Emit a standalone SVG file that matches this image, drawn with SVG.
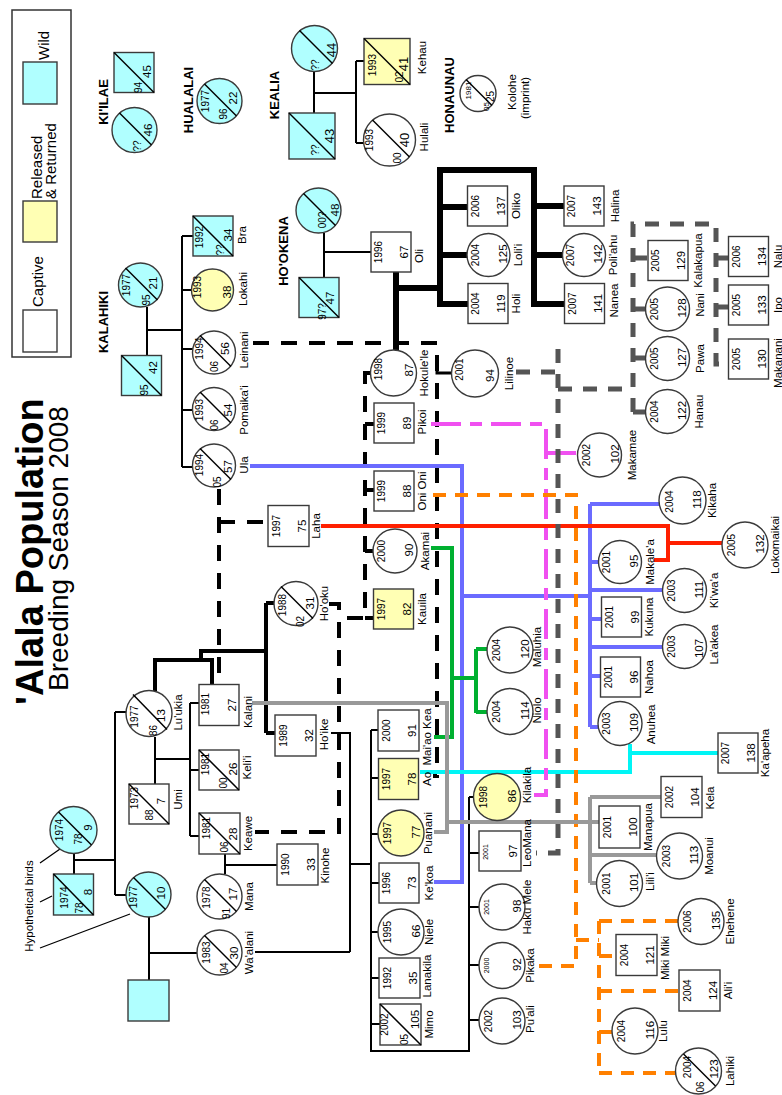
<svg xmlns="http://www.w3.org/2000/svg" width="782" height="1095" viewBox="0 0 782 1095">
<style>
text{font-family:"Liberation Sans",Arial,Helvetica,sans-serif;text-anchor:middle;fill:#000}
.st{text-anchor:start}
.s{stroke:#3a3a3a;stroke-width:1.4}
.w{fill:#fff}.b{fill:#b0ffff}.y{fill:#ffffb4}
.d{stroke:#000;stroke-width:1.5}
.yr{font-size:10px}.ys{font-size:7px}.y8{font-size:8px}.n{font-size:11.5px}.nb{font-size:13px}.m{font-size:11.5px}
.lb{font-size:13px;font-weight:bold}
.lg{font-size:15px}
.k{fill:none;stroke:#000;stroke-width:2}
.k4{fill:none;stroke:#000;stroke-width:4}
.k6{fill:none;stroke:#000;stroke-width:6}
.kd{fill:none;stroke:#000;stroke-width:4;stroke-dasharray:16 12}
.bl{fill:none;stroke:#6b6bff;stroke-width:4}
.rd{fill:none;stroke:#ff2000;stroke-width:4}
.gn{fill:none;stroke:#00b030;stroke-width:4}
.cy{fill:none;stroke:#00f5f5;stroke-width:4}
.pk{fill:none;stroke:#f050f0;stroke-width:4;stroke-dasharray:30 9 12 9}
.or{fill:none;stroke:#ff8000;stroke-width:4;stroke-dasharray:13 9}
.gr{fill:none;stroke:#999;stroke-width:4}
.gd{fill:none;stroke:#555;stroke-width:5;stroke-dasharray:14 11}
</style>
<rect width="782" height="1095" fill="#fff"/>

<g id="title">
<text class="st" font-size="38" font-weight="bold" transform="translate(43,705) rotate(-90)">'Alala Population</text>
<text class="st" font-size="28" transform="translate(68,691) rotate(-90)">Breeding Season 2008</text>
</g>

<g id="legend">
<rect x="12" y="10" width="59" height="347" fill="#fff" stroke="#333" stroke-width="1.5"/>
<rect class="b s" x="23" y="62" width="34" height="42"/>
<rect class="y s" x="23" y="201" width="34" height="41"/>
<rect class="w s" x="23" y="310" width="34" height="42"/>
<text class="lg st" transform="translate(49,60) rotate(-90)">Wild</text>
<text class="lg st" transform="translate(42,199) rotate(-90)">Released</text>
<text class="lg st" transform="translate(56,199) rotate(-90)">&amp; Returned</text>
<text class="lg st" transform="translate(43,307) rotate(-90)">Captive</text>
</g>

<g id="labels">
<text class="lb" transform="translate(108,102) rotate(-90)">KI'ILAE</text>
<text class="lb" transform="translate(193,100) rotate(-90)">HUALALAI</text>
<text class="lb" transform="translate(279,95) rotate(-90)">KEALIA</text>
<text class="lb" transform="translate(454,95) rotate(-90)">HONAUNAU</text>
<text class="lb" transform="translate(108,322) rotate(-90)">KALAHIKI</text>
<text class="lb" transform="translate(288,251) rotate(-90)">HO'OKENA</text>
<text font-size="11.5" transform="translate(33,906) rotate(-90)">Hypothetical birds</text>
<path d="M40,863L60,849M40,902L52,896M40,948L130,914" stroke="#000" stroke-width="1.3" fill="none"/>
</g>

<g id="connectors">
<path class="k" d="M314,72V113M314,93H356M356,61V143M356,61H364M356,143H364"/>
<path class="k" d="M324,233V277M324,252H371"/>
<path class="k" d="M147,307V355M147,330H182M182,236V467M182,236H193M182,290H192M182,349H193M182,410H193M182,467H193"/>
<path class="k" d="M74,853V874M74,860H115M115,712V895M115,712H127M115,895H126"/>
<path class="k" d="M149,917V980M149,953H197"/>
<path class="k" d="M155,737V784M155,759H190M190,703V836M190,703H199M190,770H199M190,836H199"/>
<path class="k" d="M225,854V874M225,865H277"/>
<path class="k" d="M331,733H350V952M255,952H350M350,864H371"/>
<path class="k" d="M371,730V1051H469V797M371,730H378M371,778H378M371,834H378M371,883H379M371,932H378M371,978H379M371,1024H380M469,797H474M469,853H479M469,907H479M469,965H479M469,1020H479"/>
<path class="k4" d="M155,691V660H212V686M201,660V651H266M266,603V733M266,603H274M266,733H275"/>
<path class="k6" d="M396,272V350M396,288H440M440,307V170H534V307M440,207H467M440,255H468M440,304H468M534,206H564M534,255H563M534,304H564"/>
<path class="kd" d="M219,489V686"/>
<path class="kd" d="M219,522H268"/>
<path class="kd" d="M253,343H437V776H433"/>
<path class="kd" d="M370,373H365V618H339"/>
<path class="kd" d="M365,424H374M365,490H374M365,551H373M365,618H374"/>
<path class="kd" d="M329,604H339V832H255"/>
<path fill="none" stroke="#000" stroke-width="3" d="M437,360V373H452"/>
<path class="bl" d="M250,466H462V882H434M462,596H590M590,504V727M590,504H659M590,562H599M590,590H663M590,619H601M590,647H663M590,676H601M590,727H599"/>
<path class="rd" d="M321,526H668V560H654M668,543H723"/>
<path class="gn" d="M431,548H452V737H434M452,678H476M476,649V713M476,649H487M476,712H487"/>
<path class="cy" d="M420,772H630V744M630,753H718"/>
<path class="pk" d="M431,424H546V795H534M546,453H578"/>
<path class="or" d="M433,495H576V966H534M576,940H599M599,921V1073M599,921H678M599,956H616M599,991H679M599,1032H612M599,1073H676"/>
<path class="gr" d="M252,703H447V832H434M447,822H599M590,797V883M590,797H661M590,855H658M590,883H598"/>
<path class="gd" d="M516,372H558M558,349V853H536M558,389H633M633,412V224H716V364H728M633,258H648M633,309H646M633,358H646M633,412H646M716,258H728M716,307H728"/>
</g>

<g id="nodes">
<g id="kiilae-m" transform="translate(134,72.5) rotate(-90)"><rect class="b s" x="-20" y="-20" width="40" height="40"/><line class="d" x1="20" y1="-20" x2="-20" y2="20"/><text class="yr" x="-15" y="7.5">94</text><text class="n" x="1" y="17">45</text></g>
<g id="kiilae-f" transform="translate(134.5,130) rotate(-90)"><circle class="b s" r="22.5"/><line class="d" x1="17" y1="-15" x2="-15" y2="17"/><text class="yr" x="-16" y="6">??</text><text class="n" x="0" y="17">46</text></g>
<g id="hualalai-f" transform="translate(219.5,101) rotate(-90)"><circle class="b s" r="22.5"/><line class="d" x1="17" y1="-15" x2="-15" y2="17"/><text class="yr" x="0" y="-11">1977</text><text class="yr" x="-13" y="7">96</text><text class="n" x="3" y="17.5">22</text></g>
<g id="bra" transform="translate(213,236) rotate(-90)"><rect class="b s" x="-20" y="-20" width="40" height="40"/><line class="d" x1="20" y1="-20" x2="-20" y2="20"/><text class="yr" x="-1" y="-10">1992</text><text class="yr" x="-14" y="11">??</text><text class="n" x="1" y="19">34</text><text class="m" x="1" y="32.5">Bra</text></g>
<g id="kealia-f" transform="translate(314.5,48.5) rotate(-90)"><circle class="b s" r="23"/><line class="d" x1="18" y1="-15" x2="-15" y2="18"/><text class="yr" x="-16.5" y="4.5">??</text><text class="nb" x="-1.5" y="21">44</text></g>
<g id="kealia-m" transform="translate(312,136) rotate(-90)"><rect class="b s" x="-23" y="-23" width="46" height="46"/><line class="d" x1="23" y1="-23" x2="-23" y2="23"/><text class="yr" x="-14" y="7">??</text><text class="nb" x="0" y="22">43</text></g>
<g id="kehau" transform="translate(387,61.5) rotate(-90)"><rect class="y s" x="-23" y="-23" width="46" height="46"/><line class="d" x1="23" y1="-23" x2="-23" y2="23"/><text class="yr" x="-3.5" y="-11">1993</text><text class="yr" x="-15.5" y="16">02</text><text class="nb" x="-2.5" y="21">41</text><text class="m" x="4" y="39">Kehau</text></g>
<g id="hulali" transform="translate(389.5,140) rotate(-90)"><circle class="w s" r="26"/><line class="d" x1="20" y1="-17" x2="-17" y2="20"/><text class="yr" x="0" y="-16.5">1993</text><text class="yr" x="-18" y="11.5">00</text><text class="nb" x="0" y="19.5">40</text><text class="m" x="3" y="38.5">Hulali</text></g>
<g id="kolohe" transform="translate(478,93.5) rotate(-90)"><circle class="w s" r="18"/><line class="d" x1="14" y1="-12" x2="-12" y2="14"/><text class="y8" x="3" y="-7">1981</text><text class="y8" x="-13" y="11">05</text><text class="yr" x="-3" y="16">25</text><text class="m" x="1.5" y="38">Kolohe</text><text class="m" x="-4.5" y="51">(imprint)</text></g>
<g id="hookena-f" transform="translate(318.5,210.5) rotate(-90)"><circle class="b s" r="22.5"/><line class="d" x1="17" y1="-15" x2="-15" y2="17"/><text class="yr" x="-9.5" y="7">00?</text><text class="n" x="0.5" y="20">48</text></g>
<g id="hookena-m" transform="translate(319,297.5) rotate(-90)"><rect class="b s" x="-20" y="-20" width="40" height="40"/><line class="d" x1="20" y1="-20" x2="-20" y2="20"/><text class="yr" x="-14" y="7">97?</text><text class="n" x="-0.5" y="15">47</text></g>
<g id="oli" transform="translate(391,252) rotate(-90)"><rect class="w s" x="-20" y="-20" width="40" height="40"/><text class="yr" x="0" y="-9">1996</text><text class="n" x="0" y="17">67</text><text class="m" x="-4" y="32">Oli</text></g>
<g id="oliko" transform="translate(487.5,206) rotate(-90)"><rect class="w s" x="-20" y="-20" width="40" height="40"/><text class="yr" x="0" y="-9">2006</text><text class="n" x="0" y="17">137</text><text class="m" x="0" y="32">Oliko</text></g>
<g id="lolii" transform="translate(488.5,255) rotate(-90)"><circle class="w s" r="21.5"/><text class="yr" x="0" y="-10">2004</text><text class="n" x="1" y="18">125</text><text class="m" x="0" y="33">Loli'i</text></g>
<g id="holi" transform="translate(488,303.5) rotate(-90)"><rect class="w s" x="-20" y="-20" width="40" height="40"/><text class="yr" x="0" y="-9">2004</text><text class="n" x="0" y="17">119</text><text class="m" x="0" y="32">Holi</text></g>
<g id="halina" transform="translate(584,206) rotate(-90)"><rect class="w s" x="-20" y="-20" width="40" height="40"/><text class="yr" x="0" y="-9">2007</text><text class="n" x="0" y="17">143</text><text class="m" x="0" y="35">Halina</text></g>
<g id="poliahu" transform="translate(584,255) rotate(-90)"><circle class="w s" r="21.5"/><text class="yr" x="0" y="-10">2007</text><text class="n" x="1" y="18">142</text><text class="m" x="0" y="33">Poli'ahu</text></g>
<g id="nanea" transform="translate(584.5,303.5) rotate(-90)"><rect class="w s" x="-20" y="-20" width="40" height="40"/><text class="yr" x="0" y="-9">2007</text><text class="n" x="0" y="17">141</text><text class="m" x="3" y="33">Nanea</text></g>
<g id="kalakapua" transform="translate(668,260.5) rotate(-90)"><rect class="w s" x="-20" y="-20" width="40" height="40"/><text class="yr" x="0" y="-9">2005</text><text class="n" x="0" y="17">129</text><text class="m" x="0" y="34">Kalakapua</text></g>
<g id="nani" transform="translate(667.5,309) rotate(-90)"><circle class="w s" r="22"/><text class="yr" x="0" y="-10">2005</text><text class="n" x="1" y="18">128</text><text class="m" x="4" y="36">Nani</text></g>
<g id="pawa" transform="translate(667.5,358.5) rotate(-90)"><circle class="w s" r="22"/><text class="yr" x="0" y="-10">2005</text><text class="n" x="1" y="18">127</text><text class="m" x="0" y="36">Pawa</text></g>
<g id="hanau" transform="translate(667.5,411.5) rotate(-90)"><circle class="w s" r="22"/><text class="yr" x="0" y="-10">2004</text><text class="n" x="1" y="18">122</text><text class="m" x="0" y="35">Hanau</text></g>
<g id="nalu" transform="translate(748.5,256.5) rotate(-90)"><rect class="w s" x="-20" y="-20" width="40" height="40"/><text class="yr" x="0" y="-9">2006</text><text class="n" x="0" y="17">134</text><text class="m" x="0" y="33">Nalu</text></g>
<g id="ipo" transform="translate(748.5,305) rotate(-90)"><rect class="w s" x="-20" y="-20" width="40" height="40"/><text class="yr" x="0" y="-9">2005</text><text class="n" x="0" y="17">133</text><text class="m" x="0" y="33">Ipo</text></g>
<g id="makanani" transform="translate(748.5,359) rotate(-90)"><rect class="w s" x="-20" y="-20" width="40" height="40"/><text class="yr" x="0" y="-9">2005</text><text class="n" x="0" y="17">130</text><text class="m" x="-4" y="33">Makanani</text></g>
<g id="kalahiki-f" transform="translate(140.5,285) rotate(-90)"><circle class="b s" r="22"/><line class="d" x1="17" y1="-15" x2="-15" y2="17"/><text class="yr" x="0" y="-10.5">1977</text><text class="yr" x="-15" y="9.5">95</text><text class="n" x="2" y="16.5">21</text></g>
<g id="kalahiki-m" transform="translate(141.5,375.5) rotate(-90)"><rect class="b s" x="-20" y="-20" width="40" height="40"/><line class="d" x1="20" y1="-20" x2="-20" y2="20"/><text class="yr" x="-14.5" y="6.5">95</text><text class="n" x="8" y="15.5">42</text></g>
<g id="lokahi" transform="translate(212.5,290) rotate(-90)"><circle class="y s" r="21"/><text class="yr" x="3" y="-12">1993</text><text class="n" x="-2" y="18">38</text><text class="m" x="1" y="34.5">Lokahi</text></g>
<g id="leinani" transform="translate(214,352.5) rotate(-90)"><circle class="w s" r="21.5"/><line class="d" x1="17" y1="-14" x2="-14" y2="17"/><text class="yr" x="4" y="-11">1994</text><text class="yr" x="-14" y="4">06</text><text class="n" x="4" y="15">56</text><text class="m" x="2.5" y="34">Leinani</text></g>
<g id="pomaikai" transform="translate(214,409) rotate(-90)"><circle class="w s" r="21.5"/><line class="d" x1="17" y1="-14" x2="-14" y2="17"/><text class="yr" x="-1" y="-11.5">1993</text><text class="yr" x="-16" y="4">06</text><text class="n" x="-1" y="18">54</text><text class="m" x="-1" y="34">Pomaika'i</text></g>
<g id="ula" transform="translate(214,465.5) rotate(-90)"><circle class="w s" r="21.5"/><line class="d" x1="17" y1="-14" x2="-14" y2="17"/><text class="yr" x="0.5" y="-11.5">1994</text><text class="yr" x="-16.5" y="7">05</text><text class="n" x="-1" y="18">57</text><text class="m" x="0.5" y="34">Ula</text></g>
<g id="hokulele" transform="translate(393.5,373) rotate(-90)"><circle class="w s" r="23"/><text class="yr" x="4" y="-12">1998</text><text class="n" x="3" y="19">87</text><text class="m" x="0" y="34.5">Hokule'le</text></g>
<g id="lilinoe" transform="translate(475,373.5) rotate(-90)"><circle class="w s" r="23.5"/><text class="yr" x="4" y="-12">2001</text><text class="n" x="-2" y="19">94</text><text class="m" x="0" y="37.5">Lilinoe</text></g>
<g id="pikoi" transform="translate(394,423) rotate(-90)"><rect class="w s" x="-20" y="-20" width="40" height="40"/><text class="yr" x="0" y="-9">1999</text><text class="n" x="0" y="17">89</text><text class="m" x="1" y="32">Pikoi</text></g>
<g id="onioni" transform="translate(394,491) rotate(-90)"><rect class="w s" x="-20" y="-20" width="40" height="40"/><text class="yr" x="0" y="-9">1999</text><text class="n" x="0" y="17">88</text><text class="m" x="0" y="32">Oni Oni</text></g>
<g id="laha" transform="translate(288.5,526) rotate(-90)"><rect class="w s" x="-20.5" y="-20.5" width="41" height="41"/><text class="yr" x="0" y="-9">1997</text><text class="n" x="0" y="17">75</text><text class="m" x="0" y="31">Laha</text></g>
<g id="akamai" transform="translate(395,551) rotate(-90)"><circle class="w s" r="22"/><text class="yr" x="0" y="-10">2000</text><text class="n" x="1" y="18">90</text><text class="m" x="0" y="34">Akamai</text></g>
<g id="kauila" transform="translate(393.5,609) rotate(-90)"><rect class="y s" x="-20" y="-20" width="40" height="40"/><text class="yr" x="0" y="-9">1997</text><text class="n" x="0" y="17">82</text><text class="m" x="0" y="32">Kauila</text></g>
<g id="makamae" transform="translate(599.5,455) rotate(-90)"><circle class="w s" r="22"/><text class="yr" x="0" y="-10">2002</text><text class="n" x="1" y="19">102</text><text class="m" x="0" y="36.5">Makamae</text></g>
<g id="kikaha" transform="translate(682.5,500.5) rotate(-90)"><circle class="w s" r="23.5"/><text class="yr" x="-1" y="-10">2004</text><text class="n" x="1" y="18.5">118</text><text class="m" x="0" y="33.5">Kikaha</text></g>
<g id="lokomaikai" transform="translate(745,545) rotate(-90)"><circle class="w s" r="23"/><text class="yr" x="0" y="-10">2005</text><text class="n" x="1" y="18.5">132</text><text class="m" x="0" y="34">Lokomaikai</text></g>
<g id="makalea" transform="translate(620,562) rotate(-90)"><circle class="w s" r="21.5"/><text class="yr" x="0" y="-10">2001</text><text class="n" x="1" y="18">95</text><text class="m" x="0" y="34">Makale'a</text></g>
<g id="kiwaa" transform="translate(684.5,590.5) rotate(-90)"><circle class="w s" r="22"/><text class="yr" x="0" y="-10">2003</text><text class="n" x="1" y="18">111</text><text class="m" x="0" y="33">Ki'wa'a</text></g>
<g id="kukuna" transform="translate(621.5,617) rotate(-90)"><rect class="w s" x="-20" y="-20" width="40" height="40"/><text class="yr" x="0" y="-9">2001</text><text class="n" x="0" y="17">99</text><text class="m" x="0" y="31">Kukuna</text></g>
<g id="laakea" transform="translate(684.5,646.5) rotate(-90)"><circle class="w s" r="22"/><text class="yr" x="0" y="-10">2003</text><text class="n" x="-2" y="18">107</text><text class="m" x="2" y="33">La'akea</text></g>
<g id="nahoa" transform="translate(620.5,677) rotate(-90)"><rect class="w s" x="-20" y="-20" width="40" height="40"/><text class="yr" x="0" y="-9">2001</text><text class="n" x="0" y="17">96</text><text class="m" x="0" y="32">Nahoa</text></g>
<g id="anuhea" transform="translate(620,723.5) rotate(-90)"><circle class="w s" r="22"/><text class="yr" x="0" y="-10">2003</text><text class="n" x="1" y="18">109</text><text class="m" x="-1" y="35">Anuhea</text></g>
<g id="kaapeha" transform="translate(738,753) rotate(-90)"><rect class="w s" x="-20" y="-20" width="40" height="40"/><text class="yr" x="0" y="-9">2007</text><text class="n" x="0" y="17">138</text><text class="m" x="0" y="31">Ka'apeha</text></g>
<g id="maluhia" transform="translate(510,650) rotate(-90)"><circle class="w s" r="23"/><text class="yr" x="0" y="-10">2004</text><text class="n" x="1" y="18.5">120</text><text class="m" x="3" y="31">Maluhia</text></g>
<g id="niolo" transform="translate(510,711.5) rotate(-90)"><circle class="w s" r="23"/><text class="yr" x="0" y="-10">2004</text><text class="n" x="1" y="18.5">114</text><text class="m" x="1" y="31">Niolo</text></g>
<g id="kilakila" transform="translate(497,797) rotate(-90)"><circle class="y s" r="23.5"/><text class="yr" x="0" y="-10">1998</text><text class="n" x="1" y="18.5">86</text><text class="m" x="12" y="34">Kilakila</text></g>
<g id="hooku" transform="translate(296,603.5) rotate(-90)"><circle class="w s" r="22"/><line class="d" x1="17" y1="-15" x2="-15" y2="17"/><text class="yr" x="-1.5" y="-10">1988</text><text class="yr" x="-18" y="8">02</text><text class="n" x="0.5" y="18">31</text><text class="m" x="0" y="32">Ho'oku</text></g>
<g id="hoike" transform="translate(295.5,735.5) rotate(-90)"><rect class="w s" x="-20.5" y="-20.5" width="41" height="41"/><text class="yr" x="0" y="-9">1989</text><text class="n" x="0" y="17">32</text><text class="m" x="1" y="32">Ho'ike</text></g>
<g id="maiaokea" transform="translate(398.5,730.5) rotate(-90)"><rect class="w s" x="-20.5" y="-20.5" width="41" height="41"/><text class="yr" x="0" y="-9">2000</text><text class="n" x="0" y="17">91</text><text class="m" x="-6.5" y="32">Mai'ao Kea</text></g>
<g id="ao" transform="translate(398.5,779) rotate(-90)"><rect class="y s" x="-20.5" y="-20" width="41" height="40"/><text class="yr" x="0" y="-9">1997</text><text class="n" x="0" y="17">78</text><text class="m" x="0" y="32">Ao</text></g>
<g id="luukia" transform="translate(149,713.5) rotate(-90)"><circle class="w s" r="23"/><line class="d" x1="19" y1="-16" x2="-16" y2="18"/><text class="yr" x="-3" y="-11">1977</text><text class="yr" x="-17" y="8">86</text><text class="n" x="-2" y="16">13</text><text class="m" x="1" y="33">Lu'ukia</text></g>
<g id="kalani" transform="translate(219,705) rotate(-90)"><rect class="w s" x="-20.5" y="-20" width="41" height="40"/><text class="yr" x="1" y="-10">1981</text><text class="n" x="0" y="17">27</text><text class="m" x="-7" y="33">Kalani</text></g>
<g id="kelii" transform="translate(219,770) rotate(-90)"><rect class="w s" x="-20" y="-20" width="40" height="40"/><line class="d" x1="20" y1="-20" x2="-20" y2="20"/><text class="yr" x="6" y="-10">1981</text><text class="yr" x="-13" y="8">00</text><text class="n" x="1" y="17.5">26</text><text class="m" x="2.5" y="32">Keli'i</text></g>
<g id="umi" transform="translate(149,804) rotate(-90)"><rect class="w s" x="-20" y="-20" width="40" height="40"/><line class="d" x1="20" y1="-20" x2="-20" y2="20"/><text class="yr" x="6" y="-11">1973</text><text class="yr" x="-11" y="4">88</text><text class="n" x="3" y="16">7</text><text class="m" x="4.5" y="33">Umi</text></g>
<g id="keawe" transform="translate(219.5,833.5) rotate(-90)"><rect class="w s" x="-20.5" y="-20.5" width="41" height="41"/><line class="d" x1="20.5" y1="-20.5" x2="-20.5" y2="20.5"/><text class="yr" x="5.5" y="-9.5">1981</text><text class="yr" x="-13.5" y="8.5">06</text><text class="n" x="-0.5" y="17.5">28</text><text class="m" x="0" y="32.5">Keawe</text></g>
<g id="mana" transform="translate(219.5,896.5) rotate(-90)"><circle class="w s" r="22.5"/><line class="d" x1="17" y1="-15" x2="-15" y2="17"/><text class="yr" x="-1" y="-9.5">1978</text><text class="yr" x="-17" y="10">91</text><text class="n" x="2.5" y="17.5">17</text><text class="m" x="0" y="33.5">Mana</text></g>
<g id="waalani" transform="translate(219.5,952.5) rotate(-90)"><circle class="w s" r="22.5"/><line class="d" x1="17" y1="-15" x2="-15" y2="17"/><text class="yr" x="0" y="-9.5">1983</text><text class="yr" x="-15.5" y="8.5">04</text><text class="n" x="-0.5" y="18.5">30</text><text class="m" x="0" y="33.5">Wa'alani</text></g>
<g id="kinohe" transform="translate(297.5,864.5) rotate(-90)"><rect class="w s" x="-20.5" y="-20.5" width="41" height="41"/><text class="yr" x="0" y="-9">1990</text><text class="n" x="0" y="17">33</text><text class="m" x="-1" y="31.5">Kinohe</text></g>
<g id="puanani" transform="translate(401,833) rotate(-90)"><circle class="y s" r="23"/><text class="yr" x="0" y="-10">1997</text><text class="n" x="1" y="18.5">77</text><text class="m" x="0" y="31">Puanani</text></g>
<g id="kekoa" transform="translate(399,883) rotate(-90)"><rect class="w s" x="-20" y="-20" width="40" height="40"/><text class="yr" x="0" y="-9">1996</text><text class="n" x="0" y="17">73</text><text class="m" x="0" y="34">Ke'koa</text></g>
<g id="niele" transform="translate(401,932) rotate(-90)"><circle class="w s" r="23"/><text class="yr" x="0" y="-10">1995</text><text class="n" x="1" y="18.5">66</text><text class="m" x="0" y="32">Niele</text></g>
<g id="lanakila" transform="translate(399.5,978) rotate(-90)"><rect class="w s" x="-20" y="-20.5" width="40" height="41"/><text class="yr" x="0" y="-9">1992</text><text class="n" x="0" y="17">35</text><text class="m" x="2" y="31.5">Lanakila</text></g>
<g id="mimo" transform="translate(400.5,1024.5) rotate(-90)"><rect class="w s" x="-20.5" y="-20.5" width="41" height="41"/><line class="d" x1="20.5" y1="-20.5" x2="-20.5" y2="20.5"/><text class="yr" x="0" y="-12.5">2002</text><text class="yr" x="-15" y="7.5">05</text><text class="n" x="5" y="18.5">105</text><text class="m" x="0" y="32">Mimo</text></g>
<g id="leomana" transform="translate(500,851) rotate(-90)"><rect class="w s" x="-20" y="-21" width="40" height="42"/><text class="ys" x="-1" y="-12">2001</text><text class="n" x="0" y="17">97</text><text class="m" x="8" y="31">LeoMana</text></g>
<g id="hakumele" transform="translate(502,907) rotate(-90)"><circle class="w s" r="23"/><text class="ys" x="0" y="-13">2001</text><text class="n" x="1" y="18.5">98</text><text class="m" x="0" y="29">Haku Mele</text></g>
<g id="pikaka" transform="translate(502,965.5) rotate(-90)"><circle class="w s" r="23"/><text class="ys" x="0" y="-13">2000</text><text class="n" x="1" y="18.5">92</text><text class="m" x="0" y="32">Pikaka</text></g>
<g id="puali" transform="translate(502,1021) rotate(-90)"><circle class="w s" r="23"/><text class="yr" x="0" y="-10">2002</text><text class="n" x="1" y="18.5">103</text><text class="m" x="2" y="32">Pu'ali</text></g>
<g id="kela" transform="translate(681.5,797) rotate(-90)"><rect class="w s" x="-20.5" y="-20.5" width="41" height="41"/><text class="yr" x="0" y="-9">2002</text><text class="n" x="0" y="17">104</text><text class="m" x="-1" y="32">Kela</text></g>
<g id="manapua" transform="translate(619.5,827) rotate(-90)"><rect class="w s" x="-21" y="-20.5" width="42" height="41"/><text class="yr" x="0" y="-9">2001</text><text class="n" x="0" y="17">100</text><text class="m" x="0" y="32">Manapua</text></g>
<g id="moanui" transform="translate(679.5,856) rotate(-90)"><circle class="w s" r="23"/><text class="yr" x="0" y="-10">2003</text><text class="n" x="1" y="18.5">113</text><text class="m" x="0" y="33">Moanui</text></g>
<g id="lilii" transform="translate(619.5,883.5) rotate(-90)"><circle class="w s" r="23"/><text class="yr" x="0" y="-10">2001</text><text class="n" x="1" y="18.5">101</text><text class="m" x="2" y="34">Lili'i</text></g>
<g id="ehehene" transform="translate(701,921.5) rotate(-90)"><circle class="w s" r="23"/><text class="yr" x="0" y="-10">2006</text><text class="n" x="1" y="18.5">135</text><text class="m" x="0" y="33">Ehehene</text></g>
<g id="mikimiki" transform="translate(636.5,955) rotate(-90)"><rect class="w s" x="-20.5" y="-20.5" width="41" height="41"/><text class="yr" x="0" y="-9">2004</text><text class="n" x="0" y="17">121</text><text class="m" x="-3" y="32">Miki Miki</text></g>
<g id="alii" transform="translate(699.5,990.5) rotate(-90)"><rect class="w s" x="-20.5" y="-20.5" width="41" height="41"/><text class="yr" x="0" y="-9">2004</text><text class="n" x="0" y="17">124</text><text class="m" x="0" y="32">Ali'i</text></g>
<g id="lulu" transform="translate(635,1031) rotate(-90)"><circle class="w s" r="23"/><text class="yr" x="0" y="-10">2004</text><text class="n" x="1" y="18.5">116</text><text class="m" x="0" y="32">Lulu</text></g>
<g id="lahiki" transform="translate(698.5,1071) rotate(-90)"><circle class="w s" r="23"/><line class="d" x1="17" y1="-15" x2="-15" y2="17"/><text class="yr" x="4" y="-7.5">2004</text><text class="yr" x="-16" y="5.5">06</text><text class="n" x="2" y="19.5">123</text><text class="m" x="0" y="35">Lahiki</text></g>
<g id="hypo-f" transform="translate(73.5,830) rotate(-90)"><circle class="b s" r="23.5"/><line class="d" x1="18" y1="-15" x2="-15" y2="18"/><text class="yr" x="0" y="-10.5">1974</text><text class="yr" x="-9" y="8.5">78</text><text class="n" x="2.5" y="18.5">9</text></g>
<g id="hypo-m" transform="translate(73.5,894.5) rotate(-90)"><rect class="b s" x="-20.5" y="-20" width="41" height="40"/><line class="d" x1="20.5" y1="-20" x2="-20.5" y2="20"/><text class="yr" x="-3" y="-5.5">1974</text><text class="yr" x="-13.5" y="9.5">78</text><text class="n" x="2.5" y="18.5">8</text></g>
<g id="f1977" transform="translate(148.5,894.5) rotate(-90)"><circle class="b s" r="22.5"/><line class="d" x1="17" y1="-15" x2="-15" y2="17"/><text class="yr" x="-2.5" y="-11.5">1977</text><text class="n" x="1.5" y="16.5">10</text></g>
<g id="unknown-m" transform="translate(148.5,1000.5) rotate(-90)"><rect class="b s" x="-20.5" y="-20.5" width="41" height="41"/></g>
</g>
</svg>
